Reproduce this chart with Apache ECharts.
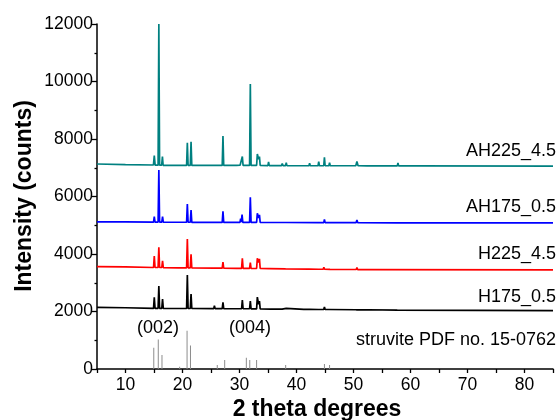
<!DOCTYPE html>
<html>
<head>
<meta charset="utf-8">
<script src="https://cdn.jsdelivr.net/npm/echarts@6/dist/echarts.min.js"></script>
<style>html,body{margin:0;padding:0;background:#fff}#c{width:560px;height:420px}</style>
</head>
<body>
<div id="c"></div>
<script>
// 2 theta (deg), intensity (counts)
const tealAH225 = [
[5,7130],[10,7110],[14.9,7095],[15.05,7420],[15.2,7090],[15.72,7090],[15.85,12000],[15.98,7090],[16.35,7090],[16.48,7390],[16.6,7085],
[19.38,7085],[19.5,7120],[19.62,7085],[20.72,7085],[20.85,7870],[20.98,7085],[21.37,7085],[21.5,7900],[21.63,7080],
[25.48,7080],[25.6,7120],[25.72,7080],[26.97,7080],[27.1,8100],[27.23,7080],[29.48,7080],[29.6,7130],[29.72,7080],
[30.1,7090],[30.22,7150],[30.35,7120],[30.5,7390],[30.63,7080],[31.77,7080],[31.9,9910],[32.03,7080],[33.0,7080],[33.13,7480],[33.35,7300],[33.5,7390],[33.63,7080],
[34.98,7075],[35.1,7200],[35.22,7075],[37.38,7075],[37.5,7150],[37.62,7075],[38.08,7075],[38.2,7180],[38.32,7075],
[41.18,7070],[41.3,7120],[41.42,7070],[42.18,7070],[42.3,7160],[42.42,7070],[43.78,7070],[43.9,7210],[44.02,7070],
[44.78,7070],[44.9,7360],[45.02,7070],[45.68,7070],[45.8,7180],[45.92,7070],[46.28,7070],[46.4,7130],[46.52,7070],
[48.58,7070],[48.7,7110],[48.82,7070],[50.4,7070],[50.6,7220],[50.8,7070],[52.38,7065],[52.5,7110],[52.62,7065],
[57.68,7065],[57.8,7165],[57.92,7065],[60.88,7065],[61.0,7120],[61.12,7065],[85,7060]
];
const blueAH175 = [
[5,5120],[10,5115],[14.92,5110],[15.05,5300],[15.18,5110],[15.72,5110],[15.85,6920],[15.98,5110],[16.37,5110],[16.5,5300],[16.63,5105],
[19.38,5105],[19.5,5150],[19.62,5105],[20.72,5105],[20.85,5740],[20.98,5105],[21.37,5105],[21.5,5530],[21.63,5100],
[25.48,5100],[25.6,5140],[25.72,5100],[26.97,5100],[27.1,5485],[27.23,5100],[30.08,5100],[30.2,5230],[30.32,5110],[30.45,5370],[30.58,5100],
[31.77,5100],[31.9,5970],[32.03,5100],[33.0,5100],[33.13,5415],[33.35,5250],[33.5,5360],[33.63,5100],
[35.08,5095],[35.2,5140],[35.32,5095],[38.08,5095],[38.2,5140],[38.32,5095],[43.78,5090],[43.9,5150],[44.02,5090],
[44.78,5090],[44.9,5200],[45.02,5090],[45.68,5090],[45.8,5140],[45.92,5090],[50.45,5090],[50.6,5180],[50.75,5090],
[57.68,5085],[57.8,5150],[57.92,5085],[60.88,5085],[61.0,5130],[61.12,5085],[85,5080]
];
const redH225 = [
[5,3560],[10,3550],[14.92,3530],[15.05,3930],[15.18,3530],[15.72,3530],[15.85,4230],[15.98,3530],[16.37,3530],[16.5,3760],[16.63,3525],
[19.28,3520],[19.4,3570],[19.52,3520],[20.72,3520],[20.85,4520],[20.98,3520],[21.37,3520],[21.5,3990],[21.63,3515],
[25.48,3510],[25.6,3560],[25.72,3510],[26.97,3510],[27.1,3720],[27.23,3505],[29.48,3500],[29.6,3550],[29.72,3500],
[30.37,3500],[30.5,3850],[30.63,3500],[31.77,3500],[31.9,3700],[32.03,3495],[33.0,3495],[33.13,3850],[33.35,3700],[33.5,3830],[33.63,3495],
[35.18,3490],[35.3,3540],[35.42,3490],[38.08,3480],[38.2,3530],[38.32,3480],[42.18,3475],[42.3,3520],[42.42,3475],
[43.88,3470],[44.0,3520],[44.12,3470],[44.68,3470],[44.8,3540],[44.92,3470],[45.88,3465],[46.0,3520],[46.12,3465],
[50.48,3460],[50.6,3530],[50.72,3460],[51.58,3460],[51.7,3520],[51.82,3460],[52.38,3460],[52.5,3510],[52.62,3455],[85,3445]
];
const blackH175 = [
[5,2145],[10,2130],[14.92,2110],[15.05,2490],[15.18,2110],[15.72,2110],[15.85,2890],[15.98,2110],[16.37,2110],[16.5,2435],[16.63,2110],
[19.28,2105],[19.4,2160],[19.52,2105],[20.72,2105],[20.85,3270],[20.98,2105],[21.37,2105],[21.5,2610],[21.63,2105],
[25.48,2100],[25.6,2200],[25.72,2100],[26.97,2100],[27.1,2320],[27.23,2100],[29.48,2095],[29.6,2150],[29.72,2095],
[30.37,2095],[30.5,2400],[30.63,2095],[31.77,2095],[31.9,2365],[32.03,2090],[33.0,2090],[33.13,2500],[33.35,2250],[33.5,2365],[33.63,2090],
[35.38,2085],[35.5,2140],[35.62,2085],[37.48,2080],[37.6,2120],[37.8,2085],[38.2,2110],[38.32,2080],[41.28,2075],[41.4,2110],[41.52,2075],
[42.28,2075],[42.4,2110],[42.52,2075],[43.88,2070],[44.0,2110],[44.12,2070],[44.78,2070],[44.9,2160],[45.02,2070],[45.68,2070],[45.8,2100],[45.92,2065],
[50.48,2060],[50.6,2110],[50.72,2060],[51.68,2060],[51.8,2100],[51.92,2060],[52.48,2060],[52.6,2090],[52.72,2055],
[57.68,2050],[57.8,2090],[57.92,2050],[85,2030]
];
// struvite reference pattern (stick positions and heights)
const stickPos = [14.96,15.75,16.4,19.5,20.8,21.4,26.1,27.4,31.2,31.8,33.0,38.1,44.9,45.8];
const stickHt  = [740,1030,490,80,1330,820,140,310,390,310,310,140,170,140];

const seriesNames = ['AH225_4.5','AH175_0.5','H225_4.5','H175_0.5','struvite PDF no. 15-0762'];
const hklLabels = ['(002)','(004)'];
const xTicks = [10,20,30,40,50,60,70,80];
const yTicks = [0,2000,4000,6000,8000,10000,12000];

const chart = echarts.init(document.getElementById('c'), null, {renderer:'canvas'});
const FONT = '"Liberation Sans", Arial, Helvetica, sans-serif';
function lineSeries(data, color){
  return {type:'line', data:data, showSymbol:false, symbol:'none', animation:false,
    lineStyle:{color:color, width:1.7}, itemStyle:{color:color}, z:3};
}
const stickData = stickPos.map((p,i)=>[p, stickHt[i]]);
function txt(text, x, y, align, size, bold, rot){
  return {type:'text', x:x, y:y, rotation: rot||0, z:10,
    style:{text:text, align:align, verticalAlign:'middle', fill:'#000',
      font:(bold?'bold ':'') + size + 'px ' + FONT}};
}
chart.setOption({
  animation:false,
  backgroundColor:'#fff',
  grid:{left:97, right:7, top:24, bottom:51, containLabel:false},
  xAxis:{type:'value', min:5, max:85, interval:5,
    axisLine:{show:true, onZero:false, lineStyle:{color:'#000', width:1.5}},
    axisTick:{show:true, length:4, lineStyle:{color:'#000', width:1.3}},
    axisLabel:{show:true, color:'#000', fontSize:17.5, fontFamily:FONT, margin:7,
      formatter:v=> xTicks.indexOf(v)>=0 ? String(v) : ''},
    splitLine:{show:false}},
  yAxis:{type:'value', min:0, max:12000, interval:2000,
    axisLine:{show:true, lineStyle:{color:'#000', width:1.5}},
    axisTick:{show:true, length:5, lineStyle:{color:'#000', width:1.3}},
    minorTick:{show:true, splitNumber:2, length:2.5, lineStyle:{color:'#000', width:1.3}},
    axisLabel:{show:true, color:'#000', fontSize:17.5, fontFamily:FONT, margin:4,
      formatter:v=> yTicks.indexOf(v)>=0 ? String(v) : ''},
    splitLine:{show:false}, minorSplitLine:{show:false}},
  series:[
    {type:'bar', data:stickData, barWidth:1, itemStyle:{color:'#8c8c8c'}, z:2, animation:false},
    lineSeries(blackH175,'#000000'),
    lineSeries(redH225,'#ff0000'),
    lineSeries(blueAH175,'#0000ff'),
    lineSeries(tealAH225,'#008080')
  ],
  graphic:[
    txt(seriesNames[0], 556, 151, 'right', 18, false),
    txt(seriesNames[1], 556, 207, 'right', 18, false),
    txt(seriesNames[2], 556, 254, 'right', 18, false),
    txt(seriesNames[3], 556, 297, 'right', 18, false),
    txt(seriesNames[4], 556, 340, 'right', 18, false),
    txt(hklLabels[0], 158, 328, 'center', 18, false),
    txt(hklLabels[1], 250, 328, 'center', 18, false),
    txt('2 theta degrees', 317, 410, 'center', 23, true),
    txt('Intensity (counts)', 25, 196, 'center', 23, true, Math.PI/2)
  ]
});
</script>
</body>
</html>
